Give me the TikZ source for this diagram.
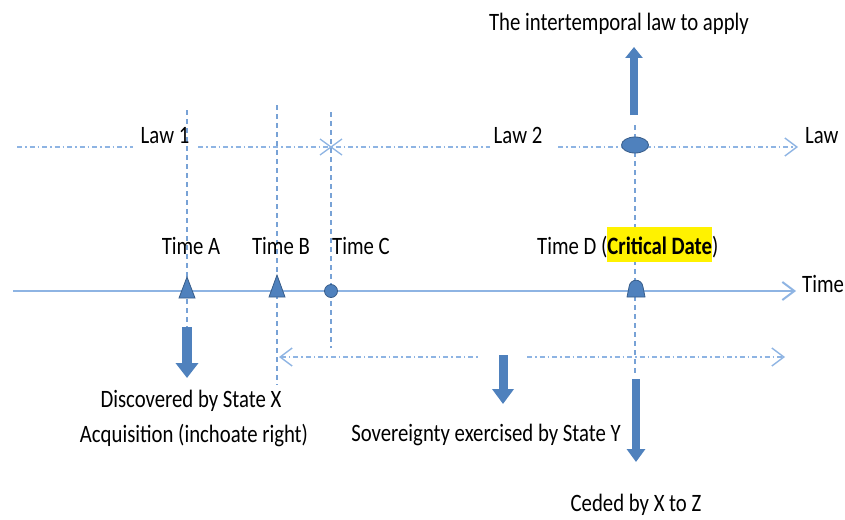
\documentclass[tikz,border=0pt]{standalone}
\usepackage{fontspec}
\setmainfont{Carlito}[FakeStretch=0.83]
\usetikzlibrary{arrows.meta}
\definecolor{axisblue}{RGB}{142,180,227}
\definecolor{dashblue}{RGB}{120,162,214}
\definecolor{markblue}{RGB}{79,129,189}
\definecolor{markedge}{RGB}{56,93,138}
\begin{document}
\begin{tikzpicture}[x=1pt,y=-1pt,
    lbl/.style={font=\fontsize{25}{28}\selectfont, inner sep=0pt, anchor=base},
    guide/.style={dashblue, line width=1.2pt, dash pattern=on 5pt off 4pt},
    dashdot/.style={axisblue, line width=1.4pt, dash pattern=on 5pt off 3pt on 1.5pt off 3pt},
    barb/.style={-{Straight Barb[length=12pt,width=18pt]}},
    marker/.style={fill=markblue, draw=markedge, line width=0.8pt},
    fat/.style={markblue, line width=9pt, -{Triangle[length=15pt,width=21pt]}}]
    \useasboundingbox (0,0) rectangle (845,519);
    % guides through the four times
    \draw[guide] (187,110) -- (187,330);
    \draw[guide] (277,105) -- (277,385);
    \draw[guide] (331,112) -- (331,348);
    \draw[guide] (635,125) -- (635,373);
    % law line
    \draw[dashdot] (17,147) -- (133,147);
    \draw[dashdot] (198,147) -- (490,147);
    \draw[dashdot, barb] (558,147) -- (798,147);
    \draw[axisblue, line width=1.3pt] (320,139) -- (342,155) (320,155) -- (342,139);
    \node[lbl] (law1) at (165,143) {Law 1};
    \node[lbl] (law2) at (518,143) {Law 2};
    \node[lbl, anchor=base west] (lawAx) at (805,143) {Law};
    % time line
    \draw[axisblue, line width=2pt, barb] (13,291) -- (796,291);
    \node[lbl, anchor=base west] (timeAx) at (802,292) {Time};
    \node[lbl] (tA) at (191,254) {Time A};
    \node[lbl] (tB) at (281,254) {Time B};
    \node[lbl] (tC) at (361,254) {Time C};
    \node[lbl, anchor=base west] (tD) at (537,254) {Time D (\setlength\fboxsep{0pt}\colorbox{yellow}{\rule[-8pt]{0pt}{35pt}\textbf{Critical Date}})};
    \draw[marker] (179,298) -- (187,277) -- (195,298) -- cycle;
    \draw[marker] (269,297) -- (277,275) -- (285,297) -- cycle;
    \draw[marker] (331,291) circle[radius=6.5pt];
    \draw[marker] (627,297) -- (629,287) .. controls (630,278) and (642,278) .. (643,287) -- (645,297) -- cycle;
    \draw[marker] (635,145) ellipse[x radius=13.5pt, y radius=8pt];
    % period of sovereignty
    \draw[dashdot, {Straight Barb[length=12pt,width=18pt]}-] (279,357) -- (480,357);
    \draw[dashdot, barb] (527,357) -- (785,357);
    % texts and block arrows
    \node[lbl] (apply) at (619,31) {The intertemporal law to apply};
    \node[lbl] (disc) at (191,407) {Discovered by State X};
    \node[lbl] (acq) at (194,442) {Acquisition (inchoate right)};
    \node[lbl] (sov) at (486,441) {Sovereignty exercised by State Y};
    \node[lbl] (ceded) at (636,511) {Ceded by X to Z};
    \draw[fat, line width=8pt, -{Triangle[length=11pt,width=17pt]}] (634,115) -- (634,47);
    \draw[fat, line width=10pt, -{Triangle[length=15pt,width=22pt]}] (187,327) -- (187,378);
    \draw[fat] (503,355) -- (503,404);
    \draw[fat, line width=8pt, -{Triangle[length=13pt,width=18pt]}] (636,379) -- (636,462);
\end{tikzpicture}
\end{document}
